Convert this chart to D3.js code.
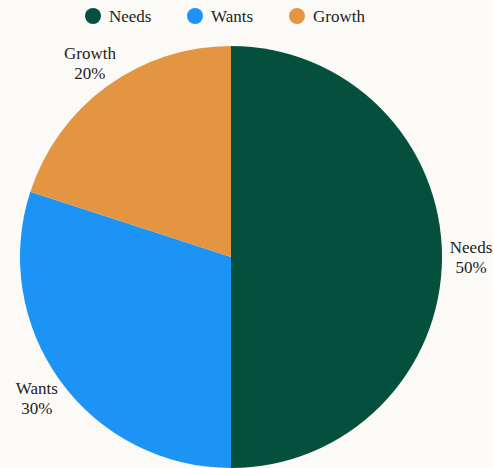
<!DOCTYPE html>
<html>
<head>
<meta charset="utf-8">
<script src="https://cdn.jsdelivr.net/npm/d3@7"></script>
<style>
  html, body { margin: 0; padding: 0; background: #fcfaf6; }
  svg { display: block; }
</style>
</head>
<body>
<div id="chart"></div>
<script>
const categories = ['Needs', 'Wants', 'Growth'];
const shares = [50, 30, 20];
const colors = ['#05503d', '#1b94f5', '#e49542'];

const width = 493, height = 468;
const cx = 231, cy = 257, radius = 211;
const FONT = '"Liberation Serif", "DejaVu Serif", serif';

const data = categories.map((name, i) => ({ name, value: shares[i], color: colors[i] }));

const svg = d3.select('#chart').append('svg')
  .attr('width', width)
  .attr('height', height)
  .style('background', '#fcfaf6');

// legend across the top
const legendX = [93, 195, 297];
const legend = svg.append('g');
data.forEach((d, i) => {
  const item = legend.append('g').attr('transform', `translate(${legendX[i]},16)`);
  item.append('circle').attr('r', 8).attr('fill', d.color);
  item.append('text')
    .attr('x', 16)
    .attr('dy', '0.35em')
    .style('font-family', FONT)
    .style('font-size', '17px')
    .style('fill', '#222')
    .text(d.name);
});

const pie = d3.pie().value(d => d.value).sort(null);
const arc = d3.arc().innerRadius(0).outerRadius(radius);
const labelArc = d3.arc().innerRadius(radius + 29).outerRadius(radius + 29);

const g = svg.append('g').attr('transform', `translate(${cx},${cy})`);
const arcs = pie(data);

g.selectAll('path')
  .data(arcs)
  .join('path')
  .attr('d', arc)
  .attr('fill', d => d.data.color);

const labels = g.selectAll('text.slice-label')
  .data(arcs)
  .join('text')
  .attr('class', 'slice-label')
  .attr('transform', d => `translate(${labelArc.centroid(d)})`)
  .attr('text-anchor', 'middle')
  .style('font-family', FONT)
  .style('font-size', '17px')
  .style('fill', '#222');

labels.append('tspan').attr('x', 0).attr('y', -4).text(d => d.data.name);
labels.append('tspan').attr('x', 0).attr('y', 16).text(d => d.data.value + '%');
</script>
</body>
</html>
